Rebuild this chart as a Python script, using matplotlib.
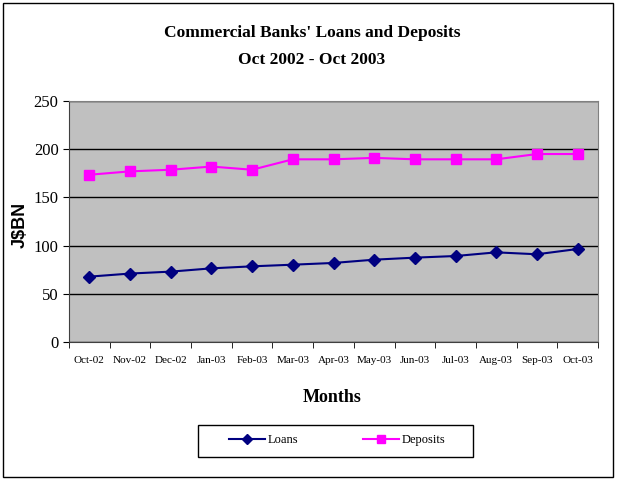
import matplotlib

matplotlib.use("Agg")
import matplotlib.pyplot as plt  # noqa: E402
from matplotlib.patches import Rectangle  # noqa: E402

months = ["Oct-02", "Nov-02", "Dec-02", "Jan-03", "Feb-03", "Mar-03", "Apr-03",
          "May-03", "Jun-03", "Jul-03", "Aug-03", "Sep-03", "Oct-03"]
loans = [67.8, 71.0, 73.0, 76.4, 78.5, 80.2, 82.0, 85.4, 87.5, 89.2, 93.0, 91.0, 96.5]
deposits = [173.5, 177.0, 178.7, 182.0, 178.7, 189.5, 189.5, 191.0, 189.5, 189.5, 189.5, 195.0, 195.0]

SERIF = "Liberation Serif"
SANS = "Liberation Sans"

fig = plt.figure(figsize=(6.17, 4.80), dpi=100)
W, H = 617, 480
ax = fig.add_axes([69 / W, 1 - 342 / H, (598 - 69) / W, (342 - 101) / H])

# outer chart border and legend frame
fig.patches.append(Rectangle((3 / W, 3 / H), 610 / W, 474 / H, transform=fig.transFigure,
                             fill=False, edgecolor="black", linewidth=1))
fig.patches.append(Rectangle((198 / W, 1 - 457 / H), 275 / W, 32 / H, transform=fig.transFigure,
                             fill=False, edgecolor="black", linewidth=1))

x = list(range(len(months)))
ax.set_facecolor("#C0C0C0")
ax.plot(x, loans, color="#000080", marker="D", markersize=6, linewidth=1.5, label="Loans")
ax.plot(x, deposits, color="#FF00FF", marker="s", markersize=7, linewidth=1.5, label="Deposits")

ax.set_xlim(-0.5, len(months) - 0.5)
ax.set_ylim(0, 250)
ax.set_yticks(range(0, 251, 50))
ax.yaxis.grid(True, color="black", linewidth=1)
ax.set_axisbelow(True)
ax.set_xticks(x)
ax.set_xticklabels(months, fontfamily=SERIF, fontsize=8)
ax.set_xticks([i - 0.5 for i in range(len(months) + 1)], minor=True)
ax.tick_params(axis="x", which="major", length=0, pad=10)
ax.tick_params(axis="x", which="minor", length=4, direction="out")
ax.tick_params(axis="y", length=4, direction="out", labelsize=12)
for lab in ax.get_yticklabels():
    lab.set_fontfamily(SERIF)
for s in ["top", "right"]:
    ax.spines[s].set_color("#808080")
for s in ["left", "bottom"]:
    ax.spines[s].set_color("#404040")

fig.text(312 / W, 1 - 33 / H, "Commercial Banks' Loans and Deposits", ha="center", va="center",
         fontfamily=SERIF, fontweight="bold", fontsize=12.5)
fig.text(312 / W, 1 - 60 / H, "Oct 2002 - Oct 2003", ha="center", va="center",
         fontfamily=SERIF, fontweight="bold", fontsize=12.5)
fig.text(20 / W, 1 - 225 / H, "J$BN", ha="center", va="center", rotation=90,
         fontfamily=SANS, fontweight="bold", fontsize=13)
fig.text(332 / W, 1 - 398 / H, "Months", ha="center", va="center",
         fontfamily=SERIF, fontweight="bold", fontsize=13)

fig.legend(loc="center", bbox_to_anchor=(337 / W, 1 - 440 / H), ncol=2,
           frameon=False, prop={"family": SERIF, "size": 9}, handlelength=2.9,
           handletextpad=0.2, columnspacing=5.2, borderpad=0.5, markerscale=0.8)

fig.savefig("out.png", dpi=100)
